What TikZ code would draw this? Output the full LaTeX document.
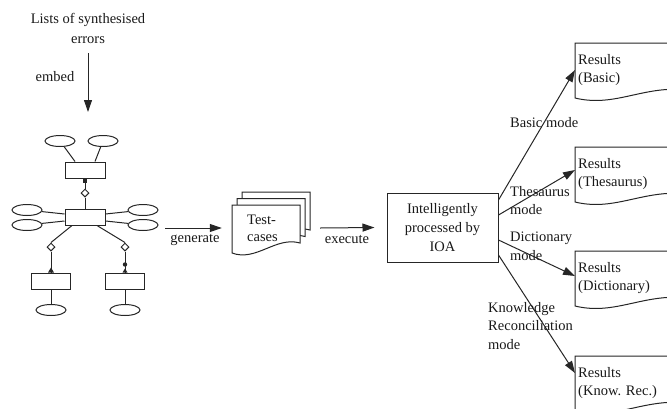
\documentclass[tikz,border=0pt]{standalone}
\usepackage{fontspec}
\setmainfont{Liberation Serif}
\usetikzlibrary{shapes.geometric,arrows.meta,calc}
\begin{document}
\begin{tikzpicture}[x=1pt,y=-1pt,
  every node/.style={font=\fontsize{14.5}{18.5}\selectfont, inner sep=0pt, text=black!90},
  line/.style={draw=black!85, line width=1pt},
  arr/.style={line, -{Triangle[length=12pt,width=8pt]}},
  erbox/.style={draw=black!85, line width=1pt, rectangle, minimum width=40pt, minimum height=16pt},
  erell/.style={draw=black!85, line width=1pt, ellipse, minimum width=30pt, minimum height=11pt},
  erdia/.style={draw=black!85, line width=1pt, diamond, minimum size=8pt},
  lbl/.style={align=left, anchor=north west},
  docshape/.style={draw=black!85, line width=1pt, fill=white},
]
\useasboundingbox (0,0) rectangle (667,408);
\clip (0,0) rectangle (667,408);

% title and embed arrow
\node[align=center, font=\fontsize{14.5}{20}\selectfont] (lists) at (88,28) {Lists of synthesised\\errors};
\coordinate (embtip) at (88,112);
\draw[arr] ([yshift=-10pt]lists.south) -- (embtip);
\node (embed) at (55,77) {embed};

% ER diagram
\node[erell] (ea) at (60,141) {};
\node[erell] (eb) at (103,141) {};
\node[erbox] (r1) at (85,170) {};
\node[erdia] (d1) at (85,193) {};
\node[erbox] (r2) at (85,217) {};
\node[erell] (l1) at (27,210) {};
\node[erell] (l2) at (27,225) {};
\node[erell] (rr1) at (143,210) {};
\node[erell] (rr2) at (143,225) {};
\node[erdia] (d2) at (51,247) {};
\node[erdia] (d3) at (125,247) {};
\node[erbox, minimum width=39pt] (r3) at (51,281) {};
\node[erbox, minimum width=39pt] (r4) at (125,281) {};
\node[erell] (e3) at (51,310) {};
\node[erell] (e4) at (125,310) {};

\draw[line] (ea) -- ([xshift=-10pt]r1.north);
\draw[line] (eb) -- ([xshift=10pt]r1.north);
\draw[line] (r1.south) -- (d1.north);
\draw[line] (d1.south) -- (r2.north);
\draw[line] (l1) -- ([yshift=3pt]r2.west);
\draw[line] (l2) -- ([yshift=-4pt]r2.west);
\draw[line] (rr1) -- ([yshift=3pt]r2.east);
\draw[line] (rr2) -- ([yshift=-4pt]r2.east);
\draw[line] ([xshift=-13pt]r2.south) -- (d2.north);
\draw[line] ([xshift=12pt]r2.south) -- (d3.north);
\draw[line] (d2.south) -- (r3.north);
\draw[line] (d3.south) -- (r4.north);
\draw[line] (r3.south) -- (e3.north);
\draw[line] (r4.south) -- (e4.north);
% cardinality marks
\fill[black!85] ($(r1.south)+(-1.8,0.5)$) rectangle ($(r1.south)+(1.8,4)$);
\fill[black!85] ($(r3.north)+(-3,0)$) -- ($(r3.north)+(3,0)$) -- ($(r3.north)+(0,-5)$) -- cycle;
\fill[black!85] ($(r4.north)+(0,-8)$) circle[radius=2.2pt];
\fill[black!85] ($(r4.north)+(-2.5,0)$) -- ($(r4.north)+(2.5,0)$) -- ($(r4.north)+(0,-4)$) -- cycle;

% generate arrow
\coordinate (g1) at (165,228);
\node[minimum width=68pt, minimum height=48pt] (tc) at (266,228) {};
\draw[arr] (g1) -- ([xshift=-10pt]tc.west);
\node (generate) at (195,240) {generate};

% test-cases document stack
\foreach \dx/\dy in {10/-13,5/-6.5,0/0}{
  \draw[docshape] (232+\dx,205+\dy) -- (300+\dx,205+\dy) -- (300+\dx,243+\dy)
    .. controls (276+\dx,236+\dy) and (256+\dx,262+\dy) .. (232+\dx,253+\dy) -- cycle;
}
\node[lbl, font=\fontsize{14.5}{17}\selectfont] (tctext) at (247,215) {Test-\\cases};

% IOA box
\node[draw=black!85, line width=1pt, minimum width=111pt, minimum height=69pt, align=center,
      font=\fontsize{14.5}{19}\selectfont] (ioa) at (442.5,227.5) {Intelligently\\processed by\\IOA};
\draw[arr] ([xshift=20pt]tc.east) -- ([xshift=-12pt]ioa.west);
\node (execute) at (347,239) {execute};

% result documents
\foreach \T in {43,147,251,356}{
  \draw[docshape] (575,\T) -- (705,\T) -- (705,\T+50)
    .. controls (650,\T+36) and (620,\T+66) .. (575,\T+55) -- cycle;
}
\node[lbl] (res1) at (578,54) {Results\\(Basic)};
\node[lbl] (res2) at (578,158) {Results\\(Thesaurus)};
\node[lbl] (res3) at (578,262) {Results\\(Dictionary)};
\node[lbl] (res4) at (578,367) {Results\\(Know. Rec.)};

\coordinate (tb) at (575,70);
\coordinate (tt) at (575,170);
\coordinate (td) at (575,276);
\coordinate (tk) at (575,373);
\draw[arr] ($(ioa.east)+(0,-27.5)$) -- (tb);
\draw[arr] ($(ioa.east)+(0,-12.5)$) -- (tt);
\draw[arr] ($(ioa.east)+(0,12.5)$) -- (td);
\draw[arr] ($(ioa.east)+(0,27.5)$) -- (tk);

% mode labels
\node[lbl] (mb) at (510,117) {Basic mode};
\node[lbl] (mt) at (510,186) {Thesaurus\\mode};
\node[lbl] (md) at (510,232) {Dictionary\\mode};
\node[lbl] (mk) at (488,302) {Knowledge\\Reconciliation\\mode};
\end{tikzpicture}
\end{document}
